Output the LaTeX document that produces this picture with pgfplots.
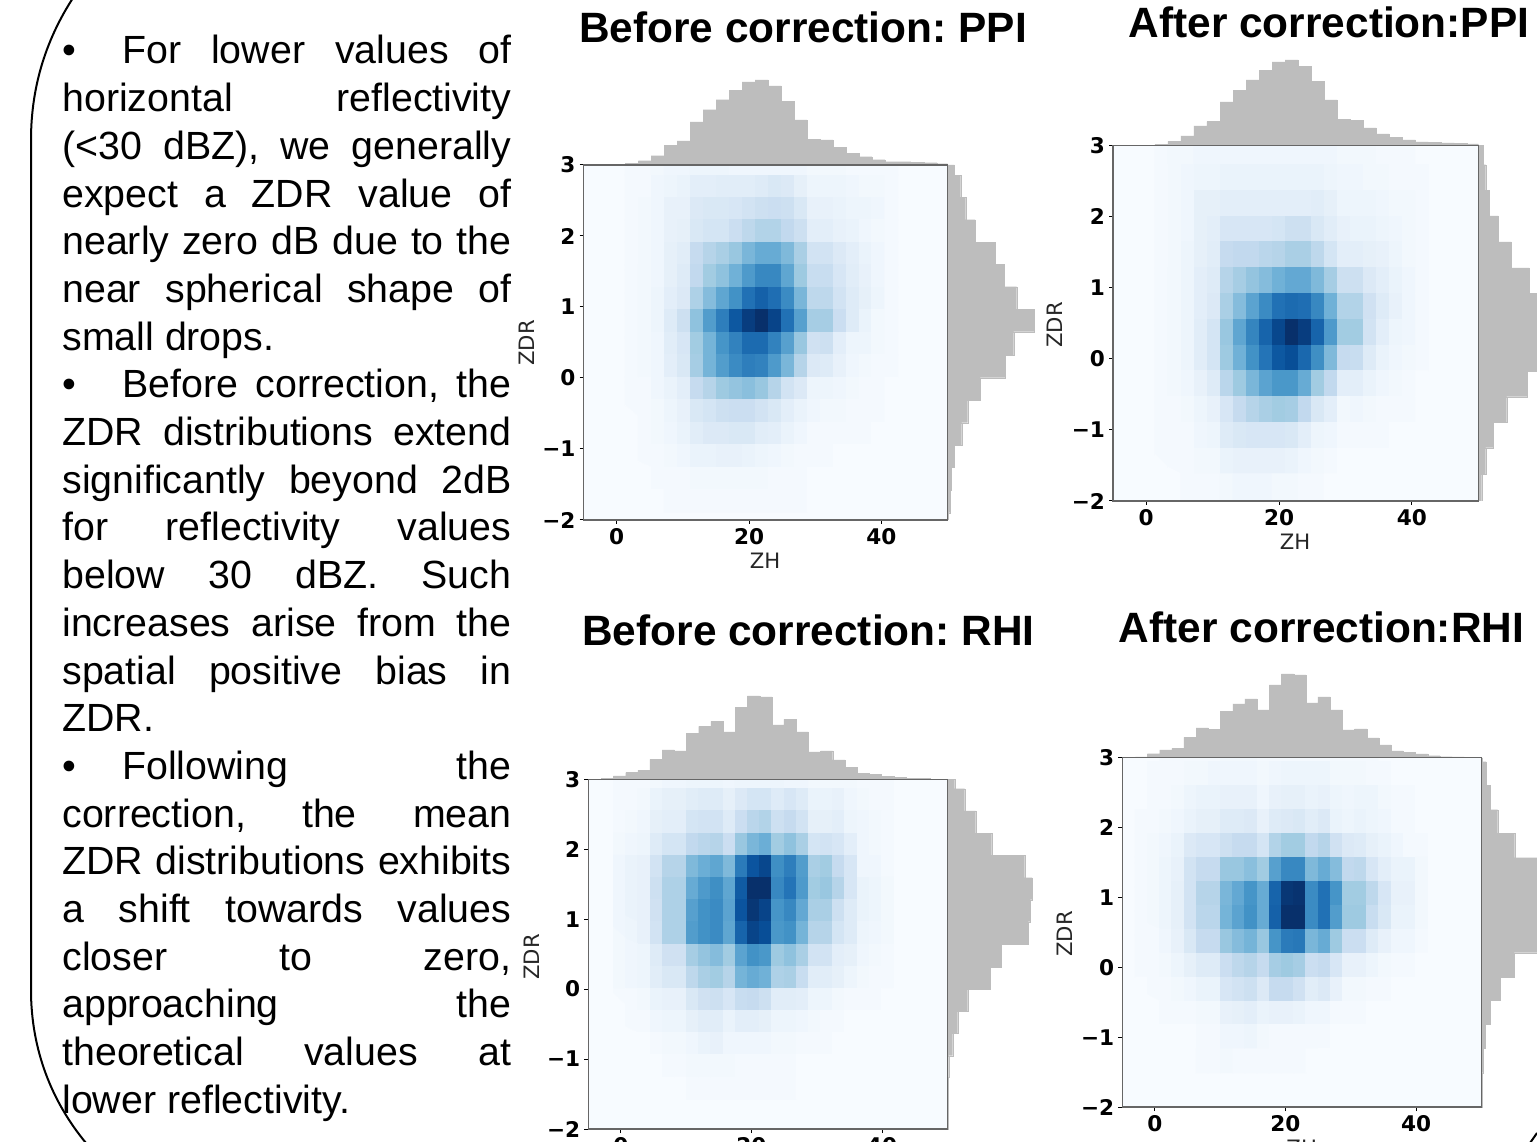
\documentclass[border=0pt]{standalone}
\usepackage{fontspec}
\usepackage{pgfplots}
\pgfplotsset{compat=1.18}
\setmainfont{Liberation Sans}
\newfontfamily\djv{DejaVu Sans}
\definecolor{histgray}{HTML}{BDBDBD}
\definecolor{lab}{HTML}{262626}
\definecolor{bluezero}{HTML}{F7FBFF}
\newcommand{\J}[1]{\makebox[224.5pt][s]{#1}}
\newcommand{\B}{\makebox[30pt][l]{•}}
\frenchspacing
\pgfplotsset{
  mainax/.style={scale only axis,xmin=-5,xmax=50,ymin=-2,ymax=3,
    xtick={0,20,40},xticklabels={0,20,40},
    ytick={-2,-1,0,1,2,3},yticklabels={−2,−1,0,1,2,3},
    tick align=outside,xtick pos=bottom,ytick pos=left,
    major tick length=2pt,tick style={black,line width=0.5pt},
    axis line style={black!60,line width=0.7pt},
    ticklabel style={font=\djv\bfseries\fontsize{10.8}{11}\selectfont,text=black},
    xticklabel style={yshift=1.25pt},
    yticklabel style={xshift=1.5pt},
    axis background/.style={fill=bluezero},
    axis on top,enlargelimits=false,
    colormap={blues}{rgb255=(247,251,255) rgb255=(222,235,247) rgb255=(198,219,239) rgb255=(158,202,225) rgb255=(107,174,214) rgb255=(66,146,198) rgb255=(33,113,181) rgb255=(8,81,156) rgb255=(8,48,107)},
    point meta min=0,point meta max=80},
  tophist/.style={scale only axis,axis lines=none,xmin=-5,xmax=50,ymin=0,ymax=90,height=45pt,enlargelimits=false},
  righthist/.style={scale only axis,axis lines=none,xmin=0,xmax=100,width=50pt,ymin=-2,ymax=3,enlargelimits=false},
  hbar/.style={ybar interval,fill=histgray,draw=histgray,line width=0.1pt},
  rbar/.style={xbar interval,fill=histgray,draw=histgray,line width=0.1pt},
}
\begin{document}
\begin{tikzpicture}
\clip (0pt,0pt) rectangle (768.5pt,570.5pt);
\fill[white] (0pt,0pt) rectangle (768.5pt,570.5pt);
% ---------- Panel A
\begin{axis}[tophist,at={(291.75pt,488pt)},anchor=south west,width=182.1pt]
\addplot[hbar] coordinates {(1.31,1.7)(3.27,4.3)(5.23,9.3)(7.19,19.7)(9.15,24)(11.11,43)(13.07,55.3)(15.03,65.3)(16.99,74.7)(18.95,83)(20.91,85)(22.87,79)(24.83,63.7)(26.79,45)(28.75,25.7)(30.71,25)(32.67,17.7)(34.63,11.7)(36.59,8.3)(38.55,5.3)(40.51,3.3)(42.47,3.3)(44.43,2.7)(46.39,2.3)(48.35,1.3)(50.31,0)};
\end{axis}
\begin{axis}[righthist,at={(473.85pt,310.5pt)},anchor=south west,height=177.5pt]
\addplot[rbar] coordinates {(0.7,-2)(2.3,-1.897)(3.7,-1.577)(6.7,-1.258)(14,-0.944)(20,-0.629)(32.3,-0.310)(57.7,0.005)(66,0.324)(86.3,0.653)(69,0.967)(56.7,1.286)(47.3,1.601)(27.3,1.915)(18,2.230)(13,2.545)(6.7,2.859)(0,3)};
\end{axis}
\begin{axis}[mainax,at={(291.75pt,310.5pt)},anchor=south west,width=182.1pt,height=177.5pt]
\addplot[matrix plot*,mesh/cols=21,point meta=explicit] table[row sep=\\,header=false,x expr={2.29+1.96*mod(\coordindex,21)},y expr={3.018-0.3165*floor(\coordindex/21)},meta index=0]{
1\\1\\2\\3\\3\\4\\4\\4\\3\\3\\3\\3\\3\\3\\2\\2\\2\\1\\1\\1\\1\\
1\\1\\3\\4\\5\\8\\8\\9\\9\\9\\10\\12\\11\\7\\4\\4\\4\\3\\2\\2\\1\\
1\\2\\3\\6\\6\\11\\12\\12\\13\\15\\17\\18\\17\\12\\6\\6\\5\\4\\4\\3\\1\\
1\\2\\3\\6\\7\\12\\14\\14\\18\\22\\25\\25\\21\\17\\8\\8\\6\\5\\3\\2\\1\\
1\\2\\3\\7\\9\\20\\24\\27\\31\\37\\41\\41\\36\\27\\15\\15\\11\\8\\5\\3\\1\\
1\\2\\3\\7\\10\\21\\29\\33\\39\\47\\53\\53\\43\\30\\19\\19\\13\\9\\6\\3\\1\\
1\\2\\4\\8\\11\\26\\35\\43\\50\\60\\65\\61\\52\\37\\22\\22\\15\\10\\7\\4\\1\\
1\\2\\4\\10\\17\\33\\46\\56\\68\\76\\80\\74\\60\\45\\28\\28\\18\\10\\5\\2\\1\\
1\\2\\3\\9\\13\\29\\38\\49\\55\\62\\62\\55\\45\\31\\16\\17\\8\\4\\4\\2\\1\\
1\\2\\3\\8\\12\\28\\38\\46\\52\\56\\55\\47\\37\\24\\11\\10\\6\\3\\2\\1\\1\\
1\\1\\3\\5\\8\\20\\24\\30\\32\\34\\31\\24\\15\\11\\4\\4\\3\\2\\1\\1\\0\\
1\\1\\2\\4\\6\\12\\14\\17\\18\\18\\15\\12\\8\\5\\3\\2\\2\\1\\1\\1\\0\\
0\\1\\2\\3\\5\\9\\11\\11\\12\\12\\9\\8\\5\\3\\1\\1\\1\\1\\1\\0\\0\\
0\\1\\1\\2\\3\\5\\5\\6\\6\\5\\4\\3\\2\\1\\1\\1\\0\\0\\0\\0\\0\\
0\\0\\1\\1\\1\\2\\2\\2\\2\\2\\2\\1\\1\\1\\0\\0\\0\\0\\0\\0\\0\\
0\\0\\0\\1\\1\\1\\1\\1\\1\\1\\1\\1\\1\\1\\0\\0\\0\\0\\0\\0\\0\\
};
\end{axis}
% ---------- Panel B
\begin{axis}[tophist,at={(556.5pt,497.85pt)},anchor=south west,width=182.65pt]
\addplot[hbar] coordinates {(1.31,1)(3.27,4)(5.23,9.3)(7.19,19.3)(9.15,23.7)(11.11,43.3)(13.07,55)(15.03,65.3)(16.99,74.7)(18.95,83.3)(20.91,85.3)(22.87,79)(24.83,63.7)(26.79,45.3)(28.75,26)(30.71,25)(32.67,17.3)(34.63,11.3)(36.59,8)(38.55,5.3)(40.51,3.3)(42.47,3)(44.43,2.3)(46.39,2)(48.35,1.3)(50.31,0)};
\end{axis}
\begin{axis}[righthist,at={(739.15pt,320pt)},anchor=south west,height=177.85pt]
\addplot[rbar] coordinates {(3.3,-2)(7.3,-1.620)(15,-1.250)(28.3,-0.889)(48.7,-0.533)(62,-0.172)(65,0.188)(60,0.554)(50.7,0.919)(32.7,1.276)(20,1.641)(10.7,2.007)(7.3,2.367)(4.7,2.728)(0,3)};
\end{axis}
\begin{axis}[mainax,at={(556.5pt,320pt)},anchor=south west,width=182.65pt,height=177.85pt]
\addplot[matrix plot*,mesh/cols=21,point meta=explicit] table[row sep=\\,header=false,x expr={2.29+1.96*mod(\coordindex,21)},y expr={2.909-0.362*floor(\coordindex/21)},meta index=0]{
1\\2\\2\\3\\3\\3\\3\\3\\3\\3\\3\\3\\3\\3\\2\\2\\2\\1\\1\\1\\0\\
1\\2\\3\\4\\4\\5\\5\\5\\5\\5\\5\\5\\5\\4\\3\\3\\2\\2\\1\\1\\1\\
1\\2\\3\\7\\7\\8\\8\\8\\8\\8\\8\\8\\9\\7\\4\\4\\4\\3\\2\\2\\1\\
1\\2\\3\\7\\8\\13\\13\\13\\13\\14\\17\\17\\12\\9\\6\\5\\5\\4\\3\\2\\1\\
1\\2\\4\\7\\9\\20\\21\\21\\23\\24\\27\\27\\22\\14\\8\\8\\7\\6\\4\\2\\1\\
1\\2\\4\\8\\10\\24\\28\\32\\35\\39\\42\\42\\36\\28\\17\\17\\11\\8\\5\\3\\1\\
1\\2\\4\\8\\11\\27\\35\\44\\52\\60\\62\\61\\53\\39\\25\\25\\16\\10\\6\\3\\1\\
1\\2\\4\\9\\14\\31\\43\\54\\64\\73\\80\\76\\64\\47\\29\\29\\15\\8\\4\\3\\1\\
1\\2\\4\\9\\14\\30\\39\\50\\59\\68\\71\\63\\51\\36\\20\\19\\10\\5\\3\\2\\1\\
1\\2\\3\\6\\10\\23\\30\\37\\44\\48\\48\\41\\29\\21\\8\\8\\5\\3\\2\\1\\0\\
1\\1\\2\\4\\6\\13\\20\\24\\27\\29\\28\\21\\12\\8\\2\\3\\2\\1\\1\\1\\0\\
1\\1\\1\\3\\4\\10\\12\\13\\13\\13\\12\\8\\4\\3\\1\\1\\1\\1\\0\\0\\0\\
1\\1\\1\\2\\2\\5\\6\\6\\6\\6\\5\\3\\2\\1\\0\\0\\0\\0\\0\\0\\0\\
0\\0\\1\\1\\1\\2\\3\\3\\3\\2\\2\\1\\1\\0\\0\\0\\0\\0\\0\\0\\0\\
};
\end{axis}
% ---------- Panel C
\begin{axis}[tophist,at={(294.15pt,180.85pt)},anchor=south west,width=179.5pt]
\addplot[hbar] coordinates {(-3.01,0.7)(-1.15,3.3)(0.72,6.7)(2.59,9)(4.45,20)(6.32,29.3)(8.18,28.3)(10.05,46)(11.92,53)(13.78,58)(15.65,47.3)(17.52,72)(19.38,83.3)(21.25,82.3)(23.11,54.3)(24.98,60)(26.85,47.3)(28.71,27.3)(30.58,28.3)(32.45,19.3)(34.31,12)(36.18,6)(38.04,5)(39.91,3)(41.78,2)(43.64,1)(45.51,1)(47.38,0)};
\end{axis}
\begin{axis}[righthist,at={(473.65pt,6pt)},anchor=south west,height=174.85pt]
\addplot[rbar] coordinates {(0.3,-2)(0.7,-1.576)(1.3,-1.261)(5.3,-0.951)(10.3,-0.632)(20.3,-0.313)(42.7,0.002)(53.7,0.316)(80.7,0.645)(82.7,0.965)(84.7,1.279)(77.3,1.594)(44.3,1.913)(28.3,2.228)(17.3,2.547)(7.3,2.867)(0,3)};
\end{axis}
\begin{axis}[mainax,at={(294.15pt,6pt)},anchor=south west,width=179.5pt,height=174.85pt]
\addplot[matrix plot*,mesh/cols=23,point meta=explicit] table[row sep=\\,header=false,x expr={-0.217+1.866*mod(\coordindex,23)},y expr={3.024-0.317*floor(\coordindex/23)},meta index=0]{
1\\1\\1\\2\\3\\3\\4\\4\\4\\3\\4\\4\\4\\4\\3\\3\\2\\2\\2\\2\\1\\1\\1\\
1\\1\\2\\5\\7\\7\\9\\10\\10\\7\\11\\14\\14\\10\\13\\10\\5\\5\\6\\3\\2\\1\\1\\
1\\2\\3\\7\\8\\8\\14\\15\\15\\10\\18\\23\\25\\17\\20\\15\\7\\7\\8\\4\\3\\2\\1\\
2\\3\\4\\10\\14\\14\\21\\23\\24\\18\\31\\37\\40\\29\\33\\27\\14\\15\\13\\8\\3\\2\\1\\
3\\5\\6\\15\\24\\24\\36\\40\\43\\36\\57\\69\\73\\51\\56\\46\\27\\29\\20\\13\\3\\3\\1\\
3\\5\\6\\17\\26\\26\\41\\47\\51\\43\\67\\80\\80\\53\\59\\47\\29\\31\\24\\13\\5\\4\\2\\
3\\5\\6\\16\\26\\26\\45\\50\\52\\44\\69\\78\\74\\49\\53\\42\\27\\27\\17\\10\\5\\4\\2\\
3\\4\\6\\15\\26\\26\\46\\50\\52\\43\\64\\74\\71\\48\\50\\38\\24\\24\\14\\10\\4\\3\\2\\
2\\3\\4\\10\\16\\16\\28\\32\\35\\29\\44\\50\\48\\30\\33\\27\\15\\15\\8\\7\\3\\2\\1\\
2\\3\\4\\9\\12\\12\\22\\27\\29\\24\\38\\41\\39\\26\\27\\19\\9\\9\\7\\4\\2\\1\\1\\
1\\1\\2\\5\\6\\6\\12\\16\\17\\13\\19\\20\\17\\9\\9\\8\\4\\4\\2\\1\\1\\1\\0\\
0\\1\\1\\3\\4\\4\\7\\9\\9\\5\\8\\8\\7\\4\\4\\3\\2\\1\\1\\0\\0\\0\\0\\
0\\0\\0\\1\\2\\2\\3\\5\\6\\3\\3\\3\\3\\2\\2\\1\\1\\1\\0\\0\\0\\0\\0\\
0\\0\\0\\0\\1\\1\\2\\2\\2\\2\\1\\1\\1\\1\\1\\0\\0\\0\\0\\0\\0\\0\\0\\
0\\0\\0\\0\\0\\0\\1\\1\\1\\1\\1\\1\\1\\1\\1\\0\\0\\0\\0\\0\\0\\0\\0\\
};
\end{axis}
% ---------- Panel D
\begin{axis}[tophist,at={(561.15pt,191.65pt)},anchor=south west,width=179.5pt]
\addplot[hbar] coordinates {(-3.01,0.7)(-1.15,4)(0.72,7.7)(2.59,9.3)(4.45,20.3)(6.32,29.7)(8.18,28.3)(10.05,46.3)(11.92,53.7)(13.78,58.7)(15.65,47.7)(17.52,72.7)(19.38,83.7)(21.25,82.7)(23.11,54.7)(24.98,60.7)(26.85,47.7)(28.71,27.7)(30.58,28.7)(32.45,19.7)(34.31,12.7)(36.18,6.7)(38.04,5.3)(39.91,3.7)(41.78,2)(43.64,1)(45.51,0.7)(47.38,0)};
\end{axis}
\begin{axis}[righthist,at={(740.65pt,17pt)},anchor=south west,height=174.65pt]
\addplot[rbar] coordinates {(0.7,-2)(1.7,-1.508)(3.7,-1.160)(8.7,-0.812)(18.7,-0.468)(32.7,-0.139)(60,0.209)(66,0.553)(66,0.891)(62,1.235)(33.3,1.569)(16.3,1.917)(8.7,2.256)(4.7,2.604)(0.7,2.943)(0,3)};
\end{axis}
\begin{axis}[mainax,at={(561.15pt,17pt)},anchor=south west,width=179.5pt,height=174.65pt]
\addplot[matrix plot*,mesh/cols=24,point meta=explicit] table[row sep=\\,header=false,x expr={-2.08+1.866*mod(\coordindex,24)},y expr={3.115-0.3425*floor(\coordindex/24)},meta index=0]{
0\\0\\1\\1\\1\\1\\1\\2\\2\\2\\1\\1\\1\\1\\1\\1\\1\\1\\1\\1\\0\\0\\0\\0\\
0\\1\\1\\1\\2\\2\\3\\3\\3\\3\\2\\3\\4\\4\\4\\4\\2\\2\\2\\1\\1\\0\\0\\0\\
0\\1\\1\\2\\4\\5\\5\\6\\6\\6\\3\\6\\7\\7\\5\\6\\4\\3\\4\\4\\2\\1\\1\\0\\
1\\1\\2\\3\\5\\7\\7\\10\\10\\11\\6\\10\\11\\12\\9\\11\\5\\4\\5\\4\\3\\1\\1\\0\\
1\\2\\3\\5\\11\\13\\13\\17\\20\\20\\14\\25\\29\\29\\21\\24\\16\\11\\10\\7\\5\\3\\1\\1\\
1\\2\\4\\6\\15\\20\\20\\31\\31\\34\\29\\45\\53\\53\\36\\41\\35\\21\\22\\13\\8\\5\\5\\2\\
1\\2\\4\\7\\15\\24\\24\\37\\42\\49\\41\\64\\78\\79\\52\\60\\49\\29\\29\\22\\13\\6\\6\\2\\
1\\2\\4\\7\\15\\23\\23\\38\\44\\50\\41\\65\\80\\80\\52\\60\\46\\30\\30\\19\\12\\5\\5\\2\\
1\\1\\3\\6\\12\\20\\20\\31\\35\\38\\31\\49\\57\\58\\37\\41\\30\\18\\18\\10\\6\\3\\3\\1\\
1\\1\\2\\4\\7\\10\\10\\18\\22\\24\\20\\28\\30\\28\\18\\20\\13\\6\\6\\4\\2\\1\\1\\0\\
0\\1\\1\\2\\3\\5\\5\\13\\15\\17\\11\\20\\20\\16\\9\\11\\6\\2\\2\\1\\1\\0\\0\\0\\
0\\0\\1\\1\\1\\2\\2\\6\\7\\8\\5\\6\\6\\5\\3\\3\\1\\1\\1\\0\\0\\0\\0\\0\\
0\\0\\0\\0\\0\\1\\1\\3\\3\\4\\2\\1\\1\\1\\1\\1\\0\\0\\0\\0\\0\\0\\0\\0\\
0\\0\\0\\0\\0\\1\\1\\2\\1\\1\\1\\1\\1\\1\\0\\0\\0\\0\\0\\0\\0\\0\\0\\0\\
};
\end{axis}
% ---------- text, in reference pixel coordinates
\begin{scope}[x=0.5pt,y=-0.5pt,yshift=570.5pt]
\tikzset{txt/.style={anchor=base west,inner sep=0pt,font=\fontsize{19.66}{22}\selectfont,text=black},
  ttl/.style={anchor=center,inner sep=0pt,font=\bfseries\fontsize{21.2}{24}\selectfont,text=black},
  alab/.style={inner sep=0pt,font=\djv\fontsize{10.6}{12}\selectfont,text=lab}}
\node[ttl] at (803,27) {Before correction: PPI};
\node[ttl] at (1329,22) {After correction:PPI};
\node[ttl] at (808.5,630) {Before correction: RHI};
\node[ttl] at (1321.5,627) {After correction:RHI};
\node[alab,rotate=90] at (527,343) {ZDR};
\node[alab,rotate=90] at (1055,325) {ZDR};
\node[alab,rotate=90] at (532,957) {ZDR};
\node[alab,rotate=90] at (1065,934) {ZDR};
\node[alab] at (765,561) {ZH};
\node[alab] at (1295,541.7) {ZH};
\node[alab] at (1301.7,1148) {ZH};
\draw[black,line width=1pt] (73,-2) .. controls (47,38) and (31,85) .. (31,140) -- (31,990) .. controls (31,1050) and (52,1102) .. (86,1143);
\draw[black,line width=1pt] (1530,1143) -- (1537,1133);
\node[txt] at (62,64) {\J{\B For lower values of}};
\node[txt] at (62,111.7) {\J{horizontal reflectivity}};
\node[txt] at (62,159.4) {\J{(<30 dBZ), we generally}};
\node[txt] at (62,207.1) {\J{expect a ZDR value of}};
\node[txt] at (62,254.8) {\J{nearly zero dB due to the}};
\node[txt] at (62,302.5) {\J{near spherical shape of}};
\node[txt] at (62,350.2) {small drops.};
\node[txt] at (62,397.9) {\J{\B Before correction, the}};
\node[txt] at (62,445.6) {\J{ZDR distributions extend}};
\node[txt] at (62,493.3) {\J{significantly beyond 2dB}};
\node[txt] at (62,541) {\J{for reflectivity values}};
\node[txt] at (62,588.7) {\J{below 30 dBZ. Such}};
\node[txt] at (62,636.4) {\J{increases arise from the}};
\node[txt] at (62,684.1) {\J{spatial positive bias in}};
\node[txt] at (62,731.8) {ZDR.};
\node[txt] at (62,779.5) {\J{\B Following the}};
\node[txt] at (62,827.2) {\J{correction, the mean}};
\node[txt] at (62,874.9) {\J{ZDR distributions exhibits}};
\node[txt] at (62,922.6) {\J{a shift towards values}};
\node[txt] at (62,970.3) {\J{closer to zero,}};
\node[txt] at (62,1018) {\J{approaching the}};
\node[txt] at (62,1065.7) {\J{theoretical values at}};
\node[txt] at (62,1113.4) {lower reflectivity.};
\end{scope}
\end{tikzpicture}
\end{document}
